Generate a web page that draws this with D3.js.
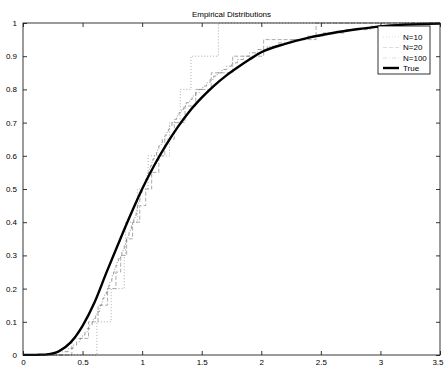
<!DOCTYPE html>
<html>
<head>
<meta charset="utf-8">
<script src="https://cdn.jsdelivr.net/npm/d3@7"></script>
<style>
  html, body { margin: 0; padding: 0; background: #fff; }
  svg { display: block; font-family: "Liberation Sans", Arial, Helvetica, sans-serif; }
</style>
</head>
<body>
<svg id="chart" width="444" height="367"></svg>
<script>
// Theoretical CDF, sampled along x
const trueX = [0, 0.1, 0.15, 0.2, 0.3, 0.4, 0.5, 0.6, 0.7, 0.8, 0.9, 1.0, 1.1, 1.2, 1.3, 1.4, 1.5,
               1.6, 1.7, 1.8, 1.9, 2.0, 2.2, 2.4, 2.6, 2.8, 3.0, 3.2, 3.5];
const trueF = [0, 0, 0.001, 0.002, 0.011, 0.038, 0.088, 0.158, 0.248, 0.335, 0.42, 0.50, 0.57, 0.632, 0.687, 0.735, 0.775,
               0.81, 0.84, 0.866, 0.89, 0.912, 0.937, 0.956, 0.97, 0.981, 0.99, 0.995, 0.998];

// Sorted samples behind each empirical distribution
const samples10 = [0.62, 0.74, 0.85, 0.86, 0.96, 1.05, 1.23, 1.32, 1.41, 1.64];
const samples20 = [0.41, 0.55, 0.63, 0.71, 0.78, 0.82, 0.87, 0.92, 0.98, 1.03,
                   1.08, 1.14, 1.19, 1.27, 1.36, 1.45, 1.58, 1.76, 2.02, 2.46];
const samples100 = [0.33, 0.38, 0.42, 0.45, 0.48, 0.50, 0.52, 0.54, 0.56, 0.58,
                    0.59, 0.61, 0.62, 0.64, 0.65, 0.66, 0.67, 0.68, 0.70, 0.71,
                    0.72, 0.73, 0.745, 0.75, 0.76, 0.77, 0.78, 0.79, 0.80, 0.82,
                    0.83, 0.84, 0.85, 0.86, 0.87, 0.88, 0.89, 0.90, 0.91, 0.92,
                    0.93, 0.94, 0.95, 0.955, 0.96, 0.97, 0.98, 0.985, 0.99, 1.00,
                    1.01, 1.02, 1.03, 1.04, 1.05, 1.06, 1.07, 1.08, 1.09, 1.10,
                    1.12, 1.13, 1.14, 1.16, 1.17, 1.19, 1.20, 1.22, 1.23, 1.25,
                    1.27, 1.29, 1.31, 1.33, 1.35, 1.37, 1.40, 1.42, 1.45, 1.48,
                    1.51, 1.54, 1.57, 1.60, 1.63, 1.67, 1.71, 1.75, 1.80, 1.85,
                    1.90, 1.97, 2.05, 2.14, 2.25, 2.38, 2.52, 2.70, 2.92, 3.20];

const xTicks = [0, 0.5, 1, 1.5, 2, 2.5, 3, 3.5];
const yTicks = [0, 0.1, 0.2, 0.3, 0.4, 0.5, 0.6, 0.7, 0.8, 0.9, 1];
const legendLabels = ["N=10", "N=20", "N=100", "True"];
const titleText = "Empirical Distributions";

const svg = d3.select("#chart");
const L = 23, R = 440, T = 23, B = 355;
const x = d3.scaleLinear().domain([0, 3.5]).range([L, R]);
const y = d3.scaleLinear().domain([0, 1]).range([B, T]);

svg.append("defs").append("clipPath").attr("id", "plotClip")
  .append("rect").attr("x", L).attr("y", T - 1).attr("width", R - L).attr("height", B - T + 2);

const plot = svg.append("g").attr("clip-path", "url(#plotClip)");

// Empirical CDF as a staircase from the sorted sample
function ecdfPoints(s) {
  const n = s.length;
  const pts = [[0, 0]];
  s.forEach((v, i) => pts.push([v, (i + 1) / n]));
  pts.push([3.5, 1]);
  return pts;
}
const stepLine = d3.line().x(d => x(d[0])).y(d => y(d[1])).curve(d3.curveStepAfter);

const empStyles = [
  { data: samples10, dash: "1,2", color: "#959595" },
  { data: samples20, dash: "4,2", color: "#959595" },
  { data: samples100, dash: "4,2,1,2", color: "#858585" }
];
empStyles.forEach(st => {
  plot.append("path")
    .attr("d", stepLine(ecdfPoints(st.data)))
    .attr("fill", "none")
    .attr("stroke", st.color)
    .attr("stroke-width", 0.8)
    .attr("stroke-dasharray", st.dash);
});

// Theoretical curve
const trueLine = d3.line().x((d, i) => x(trueX[i])).y(d => y(d)).curve(d3.curveMonotoneX);
plot.append("path")
  .attr("d", trueLine(trueF))
  .attr("fill", "none")
  .attr("stroke", "#000")
  .attr("stroke-width", 2.4)
  .attr("stroke-linejoin", "round");

// Axes: ticks pointing inward on all four sides
const tickLen = 4;
const fontSize = 8;
const axBottom = d3.axisBottom(x).tickValues(xTicks).tickSizeInner(-tickLen).tickSizeOuter(0)
  .tickPadding(tickLen + 2).tickFormat(d3.format("~g"));
const axTop = d3.axisTop(x).tickValues(xTicks).tickSizeInner(-tickLen).tickSizeOuter(0).tickFormat("");
const axLeft = d3.axisLeft(y).tickValues(yTicks).tickSizeInner(-tickLen).tickSizeOuter(0)
  .tickPadding(tickLen + 2).tickFormat(d3.format("~g"));
const axRight = d3.axisRight(y).tickValues(yTicks).tickSizeInner(-tickLen).tickSizeOuter(0).tickFormat("");

function styleAxis(g) {
  g.select(".domain").remove();
  g.selectAll(".tick line").attr("stroke", "#000").attr("stroke-width", 0.8);
  g.selectAll(".tick text").attr("fill", "#000").style("font-size", fontSize + "px");
}
const gBottom = svg.append("g").attr("transform", `translate(0,${B})`).call(axBottom).call(styleAxis);
gBottom.selectAll(".tick text").attr("dy", "0.55em");
// keep the last label inside the page edge
gBottom.selectAll(".tick").filter(d => d === 3.5).select("text")
  .attr("text-anchor", "end").attr("x", 444 - x(3.5) - 1);
svg.append("g").attr("transform", `translate(0,${T})`).call(axTop).call(styleAxis);
svg.append("g").attr("transform", `translate(${L},0)`).call(axLeft).call(styleAxis);
svg.append("g").attr("transform", `translate(${R},0)`).call(axRight).call(styleAxis);

// Axes frame
svg.append("rect")
  .attr("x", L).attr("y", T).attr("width", R - L).attr("height", B - T)
  .attr("fill", "none").attr("stroke", "#222").attr("stroke-width", 0.9);

// Title
svg.append("text")
  .attr("x", (L + R) / 2).attr("y", 17)
  .attr("text-anchor", "middle")
  .style("font-size", fontSize + "px")
  .text(titleText);

// Legend
const lg = svg.append("g");
const lgX = 378, lgY = 26, lgW = 52, lgH = 48;
lg.append("rect").attr("x", lgX).attr("y", lgY).attr("width", lgW).attr("height", lgH)
  .attr("fill", "#fff").attr("stroke", "#000").attr("stroke-width", 0.8);
const rowY = [37, 47.5, 58, 68];
legendLabels.forEach((lab, i) => {
  const ry = rowY[i];
  if (i < 3) {
    lg.append("line").attr("x1", 383).attr("x2", 399).attr("y1", ry).attr("y2", ry)
      .attr("stroke", "#c8c8c8").attr("stroke-width", 0.6)
      .attr("stroke-dasharray", empStyles[i].dash);
  } else {
    lg.append("line").attr("x1", 383).attr("x2", 399).attr("y1", ry).attr("y2", ry)
      .attr("stroke", "#000").attr("stroke-width", 2.4);
  }
  lg.append("text").attr("x", 403).attr("y", ry).attr("dy", "0.35em")
    .style("font-size", fontSize + "px").text(lab);
});
</script>
</body>
</html>
